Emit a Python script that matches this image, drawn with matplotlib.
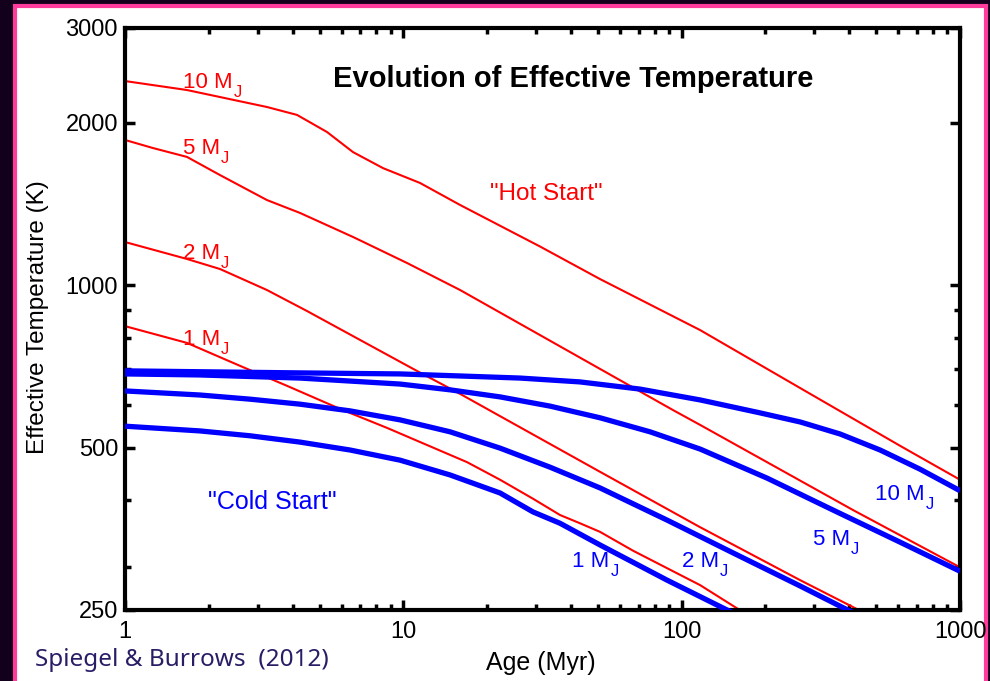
import matplotlib
matplotlib.use("Agg")
import matplotlib.pyplot as plt
from matplotlib.patches import Rectangle
from matplotlib.ticker import FixedLocator, NullFormatter, FixedFormatter

plt.rcParams['font.family'] = ['Liberation Sans', 'DejaVu Sans']

# hot start tracks: age (Myr), Teff (K)
hot_10_age = [1, 1.67, 3.237, 4.15, 5.32, 6.596, 8.46, 11.48, 16.0, 31.0, 50.9, 116.5, 266.4, 609, 1000]
hot_10_T = [2392, 2302, 2141, 2070, 1924, 1766, 1649, 1548, 1409, 1180, 1027, 826, 645, 504, 436]
hot_5_age = [1, 1.26, 1.67, 2.195, 3.237, 4.254, 6.6, 10.31, 16.0, 93.1, 116.5, 413, 1000]
hot_5_T = [1860, 1797, 1730, 1601, 1439, 1362, 1229, 1100, 980, 587, 551, 383, 300]
hot_2_age = [1, 1.67, 2.195, 3.237, 4.508, 6.596, 10.84, 16.0, 22.26, 50.9, 116.5, 266.4, 460]
hot_2_T = [1203, 1119, 1072, 980, 896, 805, 700, 629, 572, 451, 356, 284, 246]
hot_1_age = [1, 1.67, 2.59, 3.821, 5.924, 8.74, 16.94, 22.26, 29.24, 36.57, 43.14, 50.9, 66.9, 116.5, 172]
hot_1_T = [840, 782, 709, 651, 590, 544, 470, 436, 402, 375, 362, 349, 322, 278, 245]

# cold start tracks
cold_10_age = [1, 4.254, 9.73, 16.0, 26.26, 43.14, 70.9, 116.5, 191.3, 266.4, 370.9, 516.3, 719, 1000]
cold_10_T = [694, 688, 685, 679, 673, 662, 642, 613, 580, 558, 530, 495, 456, 416]
cold_5_age = [1, 1.86, 4.254, 9.73, 14.72, 22.26, 33.66, 50.9, 76.96, 116.5, 202.7, 350, 609, 1000]
cold_5_T = [685, 682, 673, 656, 640, 621, 597, 568, 535, 497, 439, 383, 334, 295]
cold_2_age = [1, 1.86, 2.813, 4.254, 6.435, 9.73, 14.72, 22.26, 33.66, 50.9, 88.6, 153, 266.4, 420]
cold_2_T = [637, 626, 615, 602, 585, 563, 535, 499, 460, 421, 367, 319, 277, 246]
cold_1_age = [1, 1.86, 2.813, 4.254, 6.435, 9.73, 14.72, 22.26, 29.24, 36.57, 50.9, 88.6, 160]
cold_1_T = [548, 537, 526, 512, 495, 474, 445, 412, 380, 362, 330, 284, 244]

masses = ['10', '5', '2', '1']
hot_age = [hot_10_age, hot_5_age, hot_2_age, hot_1_age]
hot_T = [hot_10_T, hot_5_T, hot_2_T, hot_1_T]
cold_age = [cold_10_age, cold_5_age, cold_2_age, cold_1_age]
cold_T = [cold_10_T, cold_5_T, cold_2_T, cold_1_T]

# label anchors (age, Teff) at the text baseline
hot_label_pos = [(1.616, 2320), (1.616, 1752), (1.616, 1119), (1.616, 775)]
cold_label_pos = [(495.5, 400), (296.6, 330), (100.3, 300), (40.4, 300)]

y_major = [250, 500, 1000, 2000, 3000]
y_minor = [300, 400, 600, 700, 800, 900]
x_major = [1, 10, 100, 1000]
x_minor = [k * d for d in (1, 10, 100) for k in range(2, 10)]

RED = '#ff0000'
BLUE = '#0000ff'


def mass_label(ax, x, y, m, color):
    t = ax.text(x, y, m + ' M', color=color, fontsize=16, ha='left', va='baseline')
    ax.annotate('J', xy=(1, 0), xycoords=t, xytext=(1, -4), textcoords='offset pixels',
                color=color, fontsize=12, ha='left', va='baseline')


fig = plt.figure(figsize=(9.9, 6.81), dpi=100)
fig.patch.set_facecolor('#13001c')
# white panel with pink frame
fig.patches.append(Rectangle((15 / 990, -0.05), (986 - 15) / 990, 1.05 - 6 / 681,
                             transform=fig.transFigure, facecolor='white',
                             edgecolor='#ff3c9c', linewidth=3.0, zorder=-1))

ax = fig.add_axes([125 / 990, 1 - 610 / 681, 835 / 990, 582 / 681])
ax.set_zorder(2)
ax.set_xscale('log')
ax.set_yscale('log')
ax.set_xlim(1, 1000)
ax.set_ylim(250, 3000)

for a, t in zip(hot_age, hot_T):
    ax.plot(a, t, color=RED, lw=1.5, zorder=2)
for a, t in zip(cold_age, cold_T):
    ax.plot(a, t, color=BLUE, lw=3.8, zorder=3, solid_capstyle='butt')

for m, (x, y) in zip(masses, hot_label_pos):
    mass_label(ax, x, y, m, RED)
for m, (x, y) in zip(masses, cold_label_pos):
    mass_label(ax, x, y, m, BLUE)

ax.text(0.5365, 0.8986, 'Evolution of Effective Temperature', transform=ax.transAxes,
        fontsize=21, fontweight='bold', ha='center', va='baseline')
ax.text(0.504, 0.7045, '"Hot Start"', transform=ax.transAxes, color=RED,
        fontsize=17.5, ha='center', va='baseline')
ax.text(0.176, 0.1735, '"Cold Start"', transform=ax.transAxes, color=BLUE,
        fontsize=18, ha='center', va='baseline')

ax.xaxis.set_major_locator(FixedLocator(x_major))
ax.xaxis.set_major_formatter(FixedFormatter(['1', '10', '100', '1000']))
ax.xaxis.set_minor_locator(FixedLocator(x_minor))
ax.xaxis.set_minor_formatter(NullFormatter())
ax.yaxis.set_major_locator(FixedLocator(y_major))
ax.yaxis.set_major_formatter(FixedFormatter([str(v) for v in y_major]))
ax.yaxis.set_minor_locator(FixedLocator(y_minor))
ax.yaxis.set_minor_formatter(NullFormatter())

for s in ax.spines.values():
    s.set_linewidth(3.0)
ax.tick_params(which='both', direction='in', top=True, right=True, width=2.5, labelsize=17)
ax.tick_params(which='major', length=7)
ax.tick_params(which='minor', length=4)
ax.tick_params(axis='x', pad=8)
ax.tick_params(axis='y', pad=5)

fig.text(541 / 990, 11 / 681, 'Age (Myr)', fontsize=18, ha='center', va='baseline')
fig.text(38 / 990, 1 - 317 / 681, 'Effective Temperature (K)', fontsize=17.5,
         rotation=90, ha='center', va='center')
fig.text(35 / 990, 15 / 681, 'Spiegel & Burrows  (2012)', fontsize=17.5,
         color='#2a1d66', family=['Noto Sans', 'DejaVu Sans'], ha='left', va='baseline')

fig.savefig('out.png', dpi=100, facecolor=fig.get_facecolor())
